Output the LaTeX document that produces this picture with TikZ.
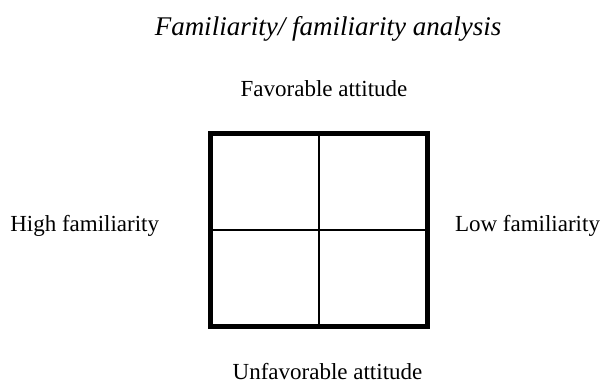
\documentclass[tikz,border=0pt]{standalone}
\usepackage{fontspec}
\setmainfont{Liberation Serif}
\begin{document}
\begin{tikzpicture}[x=1pt,y=-1pt,
  lbl/.style={anchor=base,inner sep=0pt,font=\fontsize{23}{27}\selectfont},
  ttl/.style={anchor=base,inner sep=0pt,font=\fontsize{27}{32}\selectfont\itshape},
  gridbox/.style={draw,line width=5pt,inner sep=0pt,minimum width=217pt,minimum height=193pt},
  divider/.style={line width=2.5pt}]
\useasboundingbox (0,0) rectangle (600,385);
\node[ttl] (title) at (328,36) {Familiarity/ familiarity analysis};
\node[lbl] (top) at (324,97) {Favorable attitude};
\node[lbl] (left) at (84.7,231.7) {High familiarity};
\node[lbl] (right) at (527.5,231.7) {Low familiarity};
\node[lbl] (bottom) at (327.5,379) {Unfavorable attitude};
\node[gridbox] (grid) at (319,230) {};
\draw[divider] (grid.north) -- (grid.south);
\draw[divider] (grid.west) -- (grid.east);
\end{tikzpicture}
\end{document}
